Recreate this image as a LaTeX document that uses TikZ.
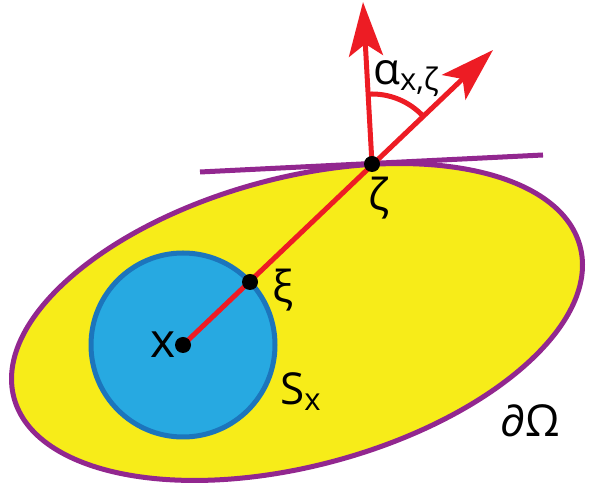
\documentclass[tikz,border=0pt]{standalone}
\usepackage{fontspec}
\setmainfont{Open Sans}
\usepackage{xcolor}
\usetikzlibrary{arrows.meta,positioning,angles}
\definecolor{domyellow}{RGB}{247,236,25}
\definecolor{bndpurple}{RGB}{146,39,143}
\definecolor{ballblue}{RGB}{39,169,225}
\definecolor{balledge}{RGB}{28,117,188}
\definecolor{rayred}{RGB}{237,28,36}
\newcommand\lsub[1]{\raisebox{-6pt}{\fontsize{31}{31}\selectfont #1}}

\begin{document}
\begin{tikzpicture}[x=1pt,y=1pt,>={Stealth[length=54pt,width=34pt,inset=12pt]},
  lbl/.style={inner sep=0pt,font=\fontsize{44}{50}\selectfont},
  dot/.style={circle,fill=black,inner sep=0pt,minimum size=16pt},
  ray/.style={rayred,line width=5pt}]
  \useasboundingbox (0,0) rectangle (596,494);
  \coordinate (dom) at (297,172);
  \draw[line width=5pt,draw=bndpurple,fill=domyellow,rotate around={15:(dom)}]
    (dom) ellipse[x radius=293pt,y radius=144pt];
  \coordinate (x) at (183,149);
  \coordinate (xi) at (250,212);
  \coordinate (zeta) at (372,330);
  \coordinate (t1) at (200,322);
  \coordinate (t2) at (543,339);
  \coordinate (n) at (363,492);
  \coordinate (r) at (493,444);
  \draw[line width=5pt,bndpurple] (t1) -- (t2);
  \draw[line width=5pt,draw=balledge,fill=ballblue] (x) circle[radius=92pt];
  \draw[ray,->] (x) -- (r);
  \draw[ray,->] (zeta) -- (n);
  \pic[draw=rayred,line width=5pt,angle radius=70pt] {angle=r--zeta--n};
  \node[dot] (xdot) at (x) {};
  \node[dot] (xidot) at (xi) {};
  \node[dot] (zetadot) at (zeta) {};
  \node[lbl,font=\fontsize{48}{50}\selectfont] (xlbl) at (163,149) {x};
  \node[lbl] (xilbl) at (283,204) {ξ};
  \node[lbl] (zetalbl) at (379,296) {ζ};
  \node[lbl,anchor=base west] (slbl) at (280,89) {S\lsub{x}};
  \node[lbl,anchor=base west] (omlbl) at (500,57) {∂Ω};
  \node[lbl,anchor=base west] (alpha) at (373,409) {α\lsub{x,ζ}};
\end{tikzpicture}
\end{document}
